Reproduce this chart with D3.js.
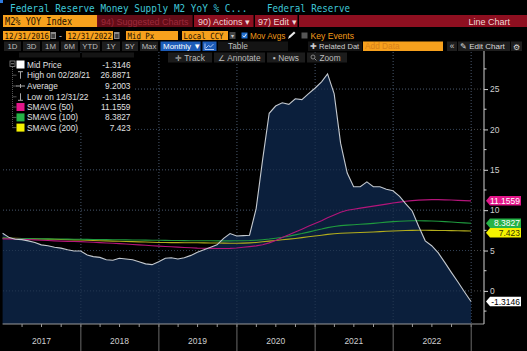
<!DOCTYPE html>
<html><head><meta charset="utf-8">
<script src="https://cdn.jsdelivr.net/npm/d3@7"></script>
<style>body{margin:0;background:#000;overflow:hidden}svg{display:block}</style>
</head><body><svg id="c" width="527" height="351"></svg>
<script>
// ---------- DATA (monthly, Dec 2016 .. Dec 2022) ----------
const m2Yoy = [7.15,6.6,6.4,6.35,6.2,6.0,5.7,5.6,5.4,5.3,5.1,4.95,
  4.95,4.45,4.25,4.15,3.85,3.8,4.05,3.95,3.85,3.6,3.35,3.25,
  3.6,4.05,4.1,3.95,4.1,4.4,4.8,5.1,5.4,5.7,6.5,7.1,
  6.8,6.85,6.9,10.2,16.2,22.0,22.9,23.3,23.1,23.8,23.7,24.4,
  25.1,25.9,26.8871,24.4,18.3,14.6,12.9,12.9,13.5,12.9,12.9,12.6,
  12.4,11.7,10.8,9.9,8.0,6.2,5.6,4.7,3.5,2.3,1.1,-0.1,-1.3146];
const sma50 = [6.45,6.44,6.42,6.40,6.36,6.32,6.28,6.24,6.20,6.17,6.14,6.12,
  6.10,6.06,6.02,5.98,5.94,5.90,5.86,5.80,5.75,5.70,5.65,5.60,
  5.55,5.50,5.46,5.42,5.38,5.34,5.30,5.28,5.27,5.26,5.26,5.27,
  5.32,5.40,5.48,5.58,5.72,5.95,6.25,6.60,6.95,7.30,7.65,8.00,
  8.35,8.70,9.05,9.40,9.75,9.98,10.12,10.25,10.38,10.50,10.62,10.75,
  10.88,11.00,11.10,11.18,11.24,11.28,11.30,11.30,11.28,11.25,11.21,11.18,11.1559];
const sma100 = [6.50,6.50,6.49,6.48,6.47,6.46,6.45,6.44,6.43,6.42,6.41,6.40,
  6.39,6.38,6.37,6.36,6.35,6.34,6.33,6.32,6.31,6.30,6.29,6.28,
  6.27,6.26,6.25,6.24,6.23,6.22,6.22,6.21,6.21,6.20,6.20,6.20,
  6.21,6.22,6.24,6.28,6.34,6.42,6.52,6.64,6.78,6.94,7.10,7.28,
  7.48,7.66,7.84,7.98,8.08,8.15,8.20,8.25,8.30,8.36,8.44,8.52,
  8.58,8.63,8.66,8.68,8.68,8.67,8.65,8.62,8.58,8.53,8.48,8.43,8.3827];
const sma200 = [6.55,6.53,6.51,6.49,6.47,6.45,6.43,6.41,6.39,6.37,6.35,6.32,
  6.30,6.27,6.25,6.22,6.20,6.17,6.15,6.12,6.10,6.07,6.05,6.02,
  6.00,5.99,5.98,5.98,5.97,5.97,5.96,5.95,5.94,5.93,5.92,5.91,
  5.90,5.92,5.95,6.00,6.08,6.16,6.25,6.33,6.41,6.50,6.60,6.70,
  6.80,6.90,7.00,7.08,7.14,7.18,7.21,7.24,7.27,7.30,7.34,7.38,
  7.42,7.45,7.48,7.50,7.51,7.51,7.50,7.49,7.48,7.47,7.45,7.44,7.423];
const yearLabels = ["2017","2018","2019","2020","2021","2022"];
const yTickValues = [0,5,10,15,20,25];
const legendNames = ["Mid Price","High on 02/28/21","Average","Low on 12/31/22","SMAVG (50)","SMAVG (100)","SMAVG (200)"];
const legendValues = ["-1.3146","26.8871","9.2003","-1.3146","11.1559","8.3827","7.423"];
const tagValues = [11.1559, 8.3827, 7.423, -1.3146];
const tagLabels = ["11.1559","8.3827","7.423","-1.3146"];

// ---------- SETUP ----------
const W=527,H=351;
const svg=d3.select('#c');
const SANS="'Liberation Sans',Arial,sans-serif";
const MONO="'DejaVu Sans Mono',monospace";
svg.append('rect').attr('width',W).attr('height',H).attr('fill','#000');

const dates = m2Yoy.map((_,i)=>d3.utcDay.offset(d3.utcMonth.offset(new Date(Date.UTC(2017,0,1)),i),-1));
const x = d3.scaleUtc().domain([dates[0],dates[dates.length-1]]).range([2.6,471]);
const y = d3.scaleLinear().domain([-4.1,28.6]).range([324,60]);
const AX=484, BOT=324, TOP=52;

// ---------- GRID ----------
const g=svg.append('g');
yTickValues.forEach(v=>{
  g.append('line').attr('x1',3).attr('x2',AX).attr('y1',y(v)).attr('y2',y(v))
   .attr('stroke','#5a5a5a').attr('stroke-width',0.8).attr('stroke-dasharray','1,2');
});
const yearBounds = d3.range(2018,2024).map(yr=>new Date(Date.UTC(yr,0,1)));
yearBounds.forEach(d=>{
  g.append('line').attr('x1',x(d)).attr('x2',x(d)).attr('y1',TOP).attr('y2',BOT)
   .attr('stroke','#5a5a5a').attr('stroke-width',0.8).attr('stroke-dasharray','1,2');
});

// ---------- AREA + LINES ----------
const pts = dates.map((d,i)=>({d,v:m2Yoy[i]}));
svg.append('path').datum(pts)
  .attr('d',d3.area().x(p=>x(p.d)).y0(BOT).y1(p=>y(p.v)))
  .attr('fill','#0b1f3c');
yTickValues.forEach(v=>{
  svg.append('line').attr('x1',3).attr('x2',471).attr('y1',y(v)).attr('y2',y(v))
   .attr('stroke','#2b3d58').attr('stroke-width',0.8).attr('stroke-dasharray','1,2');
});
yearBounds.forEach(d=>{
  svg.append('line').attr('x1',x(d)).attr('x2',x(d)).attr('y1',TOP).attr('y2',BOT)
   .attr('stroke','#2b3d58').attr('stroke-width',0.8).attr('stroke-dasharray','1,2');
});
const smaSeries=[[sma200,'#b3ad1c'],[sma100,'#1f9a3e'],[sma50,'#b4157a']];
smaSeries.forEach(([arr,col])=>{
  svg.append('path').datum(arr.map((v,i)=>({d:dates[i],v})))
   .attr('d',d3.line().x(p=>x(p.d)).y(p=>y(p.v)))
   .attr('fill','none').attr('stroke',col).attr('stroke-width',1.1);
});
svg.append('path').datum(pts)
  .attr('d',d3.line().x(p=>x(p.d)).y(p=>y(p.v)))
  .attr('fill','none').attr('stroke','#c4c9cf').attr('stroke-width',1.1);

// ---------- X AXIS ----------
svg.append('line').attr('x1',2.6).attr('x2',AX).attr('y1',BOT).attr('y2',BOT).attr('stroke','#9a9a9a').attr('stroke-width',1);
const quarters = d3.utcMonth.every(3).range(new Date(Date.UTC(2017,3,1)),new Date(Date.UTC(2023,0,2)));
quarters.forEach(d=>{
  svg.append('line').attr('x1',x(d)).attr('x2',x(d)).attr('y1',BOT).attr('y2',BOT+3).attr('stroke','#9a9a9a');
});
yearBounds.forEach(d=>{
  svg.append('line').attr('x1',x(d)).attr('x2',x(d)).attr('y1',BOT).attr('y2',H).attr('stroke','#6a6a6a');
});
yearLabels.forEach((t,i)=>{
  const mid=new Date(Date.UTC(2017+i,6,1));
  svg.append('text').attr('x',x(mid)).attr('y',344).attr('text-anchor','middle')
   .attr('font-family',SANS).attr('font-size',8.5).attr('fill','#cfcfcf').text(t);
});

// ---------- Y AXIS ----------
svg.append('line').attr('x1',AX).attr('x2',AX).attr('y1',50).attr('y2',BOT).attr('stroke','#d0d0d0').attr('stroke-width',1);
const yAxis=d3.axisRight(y).tickValues(yTickValues).tickSize(4).tickPadding(2).tickFormat(d3.format('d'));
const ya=svg.append('g').attr('transform',`translate(${AX},0)`).call(yAxis);
ya.select('.domain').remove();
ya.selectAll('line').attr('stroke','#d0d0d0');
ya.selectAll('text').attr('font-family',SANS).attr('font-size',8.5).attr('fill','#cfcfcf');
d3.range(-2.5,28.6,5).forEach(v=>{
  svg.append('line').attr('x1',AX).attr('x2',AX+2.5).attr('y1',y(v)).attr('y2',y(v)).attr('stroke','#d0d0d0');
});

// ---------- VALUE TAGS ----------
const tagFill=['#e3168a','#25b347','#f5f200','#ffffff'];
const tagText=['#ffffff','#ffffff','#333300','#000000'];
let prevY=-100;
tagValues.forEach((v,i)=>{
  let yc=y(v); if(yc<prevY+9.5) yc=prevY+9.5; prevY=yc;
  const x0=486,x1=521,h=9.5;
  svg.append('path').attr('d',`M${x0},${yc}L${x0+4},${yc-h/2}L${x1},${yc-h/2}L${x1},${yc+h/2}L${x0+4},${yc+h/2}Z`)
    .attr('fill',tagFill[i]);
  svg.append('text').attr('x',x1-1).attr('y',yc+3).attr('text-anchor','end')
    .attr('font-family',SANS).attr('font-size',8.5).attr('fill',tagText[i]).text(tagLabels[i]);
});

// ---------- LEGEND ----------
svg.append('rect').attr('x',3).attr('y',52.5).attr('width',132).attr('height',80).attr('fill','#000');
svg.append('rect').attr('x',19).attr('y',52.5).attr('width',61).attr('height',5).attr('fill','#151515');
svg.append('rect').attr('x',82).attr('y',52.5).attr('width',52).attr('height',5).attr('fill','#151515');
const rowY=[64.5,75.2,86,96.8,107,117.4,127.6];
svg.append('rect').attr('x',10).attr('y',61).attr('width',5).attr('height',5.5).attr('fill','none').attr('stroke','#8a8a8a').attr('stroke-width',0.8);
svg.append('line').attr('x1',11).attr('x2',14).attr('y1',63.75).attr('y2',63.75).attr('stroke','#aaa').attr('stroke-width',0.8);
svg.append('line').attr('x1',12.5).attr('x2',12.5).attr('y1',67).attr('y2',rowY[6]).attr('stroke','#6a6a6a').attr('stroke-width',0.8).attr('stroke-dasharray','1,1');
rowY.slice(1).forEach(yy=>svg.append('line').attr('x1',12.5).attr('x2',16.5).attr('y1',yy).attr('y2',yy).attr('stroke','#6a6a6a').attr('stroke-width',0.8));
svg.append('rect').attr('x',16.5).attr('y',rowY[0]-4).attr('width',8).attr('height',8).attr('fill','#ffffff');
const sg='#a8a8a8';
svg.append('line').attr('x1',18).attr('x2',23).attr('y1',rowY[1]-3.5).attr('y2',rowY[1]-3.5).attr('stroke',sg);
svg.append('line').attr('x1',20.5).attr('x2',20.5).attr('y1',rowY[1]-3.5).attr('y2',rowY[1]+3.5).attr('stroke',sg);
svg.append('line').attr('x1',16).attr('x2',25).attr('y1',rowY[2]).attr('y2',rowY[2]).attr('stroke',sg);
svg.append('line').attr('x1',20.5).attr('x2',20.5).attr('y1',rowY[2]-2).attr('y2',rowY[2]+2).attr('stroke',sg);
svg.append('line').attr('x1',18).attr('x2',23).attr('y1',rowY[3]+3.5).attr('y2',rowY[3]+3.5).attr('stroke',sg);
svg.append('line').attr('x1',20.5).attr('x2',20.5).attr('y1',rowY[3]-3.5).attr('y2',rowY[3]+3.5).attr('stroke',sg);
['#e3168a','#25b347','#f5f200'].forEach((c,i)=>{
  svg.append('rect').attr('x',16.5).attr('y',rowY[4+i]-4).attr('width',8).attr('height',8).attr('fill',c);
});
legendNames.forEach((n,i)=>{
  svg.append('text').attr('x',27).attr('y',rowY[i]+3).attr('font-family',SANS).attr('font-size',8.3).attr('fill','#e0e0e0').text(n);
  svg.append('text').attr('x',130.5).attr('y',rowY[i]+3).attr('text-anchor','end').attr('font-family',SANS).attr('font-size',8.3).attr('fill','#e0e0e0').text(legendValues[i]);
});

// ---------- TRACK TOOLBAR ----------
const tb=[[168,212,'✛ Track'],[214,265,'∠ Annotate'],[267,305,'▪ News'],[307,347,'  Zoom']];
tb.forEach(([a,b,t])=>{
  svg.append('rect').attr('x',a).attr('y',52.5).attr('width',b-a).attr('height',10).attr('fill','#1c1c1c');
  svg.append('text').attr('x',(a+b)/2+(t==='  Zoom'?3:0)).attr('y',60.5).attr('text-anchor','middle').attr('font-family',SANS).attr('font-size',8.3).attr('fill','#bdbdbd').text(t.trim());
});
svg.append('circle').attr('cx',313).attr('cy',57).attr('r',2).attr('fill','none').attr('stroke','#999').attr('stroke-width',0.8);
svg.append('line').attr('x1',314.5).attr('x2',316.5).attr('y1',58.5).attr('y2',60.5).attr('stroke','#999').attr('stroke-width',0.9);

// ---------- HEADER ----------
svg.append('rect').attr('x',0).attr('y',0).attr('width',3).attr('height',3).attr('fill','#2f7be0');
svg.append('text').attr('transform','translate(10,12) scale(1,1.18)').attr('font-family',MONO).attr('font-size',9.4).attr('fill','#3fc6d6')
  .text('Federal Reserve Money Supply M2 YoY % C...');
svg.append('text').attr('transform','translate(267,12) scale(1,1.18)').attr('font-family',MONO).attr('font-size',9.2).attr('fill','#3fc6d6')
  .text('Federal Reserve');

// row 2
const RED='#8e0f20';
svg.append('rect').attr('x',3).attr('y',15).attr('width',524).attr('height',12).attr('fill',RED);
svg.append('rect').attr('x',3).attr('y',15).attr('width',94).attr('height',12).attr('fill','#f7a11d');
svg.append('text').attr('transform','translate(5,24.5) scale(1,1.15)').attr('font-family',MONO).attr('font-size',8.6).attr('fill','#1a1000')
  .text('M2% YOY Index');
svg.append('rect').attr('x',97.5).attr('y',15).attr('width',95).attr('height',12).attr('fill','#640c17');
svg.append('text').attr('x',101).attr('y',24.5).attr('font-family',SANS).attr('font-size',9).attr('fill','#9c2a3b').text('94) Suggested Charts');
[[192.5,1.5],[253.5,1.5],[297.5,1.5]].forEach(([a,w])=>svg.append('rect').attr('x',a).attr('y',15).attr('width',w).attr('height',12).attr('fill','#000'));
svg.append('text').attr('x',198).attr('y',24.5).attr('font-family',SANS).attr('font-size',9).attr('fill','#f0d6d6').text('90) Actions ▾');
svg.append('text').attr('x',258).attr('y',24.5).attr('font-family',SANS).attr('font-size',9).attr('fill','#f0d6d6').text('97) Edit ▾');
svg.append('text').attr('x',510).attr('y',24.5).attr('text-anchor','end').attr('font-family',SANS).attr('font-size',9).attr('fill','#f0d6d6').text('Line Chart');

// row 3
const OR='#f7a11d';
const ob=(x0,w,t)=>{svg.append('rect').attr('x',x0).attr('y',31).attr('width',w).attr('height',9).attr('fill',OR);
  svg.append('text').attr('transform',`translate(${x0+1.5},38.6) scale(1,1.15)`).attr('font-family',MONO).attr('font-size',7.4).attr('fill','#1a1000').text(t);};
ob(3,47,'12/31/2016');
ob(66,47,'12/31/2022');
ob(126,52,'Mid Px');
ob(182,46,'Local CCY');
const ic=(x0)=>{svg.append('rect').attr('x',x0).attr('y',32).attr('width',5.5).attr('height',7).attr('fill','#8a8a8a');
  svg.append('rect').attr('x',x0+1).attr('y',34).attr('width',3.5).attr('height',4).attr('fill','#444');};
ic(50.5); ic(114);
svg.append('text').attr('x',59).attr('y',38.5).attr('font-family',SANS).attr('font-size',9).attr('fill','#ccc').text('-');
svg.append('rect').attr('x',229.5).attr('y',32).attr('width',6).attr('height',7).attr('fill','#444');
svg.append('text').attr('x',232.5).attr('y',38).attr('text-anchor','middle').attr('font-family',SANS).attr('font-size',6).attr('fill','#ccc').text('▾');
svg.append('rect').attr('x',241.5).attr('y',32.5).attr('width',6).attr('height',6).attr('fill','#1f6fd0');
svg.append('path').attr('d','M242.8,35.6L244.3,37.1L246.5,33.8').attr('fill','none').attr('stroke','#fff').attr('stroke-width',0.9);
svg.append('text').attr('x',250).attr('y',38.8).attr('font-family',SANS).attr('font-size',8.2).attr('fill','#f09a1a').text('Mov Avgs');
svg.append('path').attr('d','M288,39L289,36L294,31.5L295.5,33L290.5,37.5Z').attr('fill','#e8e8e8');
svg.append('rect').attr('x',301.5).attr('y',32.5).attr('width',6).attr('height',6).attr('fill','#555');
svg.append('text').attr('x',310.5).attr('y',38.8).attr('font-family',SANS).attr('font-size',8.6).attr('fill','#f09a1a').text('Key Events');

// row 4
const btns=[[4,21,'1D'],[23,40,'3D'],[42,59,'1M'],[61,78,'6M'],[80,100,'YTD'],[102,120,'1Y'],[122,138,'5Y'],[140,158,'Max']];
btns.forEach(([a,b,t])=>{
  svg.append('rect').attr('x',a).attr('y',41.5).attr('width',b-a).attr('height',9.5).attr('fill','#1e1e1e');
  svg.append('text').attr('x',(a+b)/2).attr('y',49).attr('text-anchor','middle').attr('font-family',SANS).attr('font-size',7.8).attr('fill','#bdbdbd').text(t);
});
svg.append('rect').attr('x',160.5).attr('y',41.5).attr('width',40).attr('height',9.5).attr('fill','#1d5cb8');
svg.append('text').attr('x',163).attr('y',49.3).attr('font-family',SANS).attr('font-size',8).attr('fill','#ffffff').text('Monthly ▼');
svg.append('rect').attr('x',202.5).attr('y',41.5).attr('width',14).attr('height',9.5).attr('fill','#1d5cb8');
svg.append('path').attr('d','M205,49.5L214,49.5M205,43.5L205,49.5M206,48L208.5,45.5L210.5,47L213.5,44').attr('fill','none').attr('stroke','#cfe0ff').attr('stroke-width',0.8);
svg.append('rect').attr('x',218).attr('y',41.5).attr('width',70).attr('height',9.5).attr('fill','#141414');
svg.append('text').attr('x',238).attr('y',49.3).attr('text-anchor','middle').attr('font-family',SANS).attr('font-size',8.3).attr('fill','#bdbdbd').text('Table');
svg.append('rect').attr('x',308).attr('y',41.5).attr('width',54).attr('height',9.5).attr('fill','#141414');
svg.append('text').attr('x',310).attr('y',49.3).attr('font-family',SANS).attr('font-size',7.6).attr('fill','#cfcfcf').text('✚ Related Dat');
svg.append('rect').attr('x',363).attr('y',41.5).attr('width',80).attr('height',9.5).attr('fill','#f7a11d');
svg.append('text').attr('x',365).attr('y',49.3).attr('font-family',SANS).attr('font-size',8.3).attr('fill','#d6801a').text('Add Data');
svg.append('rect').attr('x',447).attr('y',41.5).attr('width',10).attr('height',9.5).attr('fill','#1e1e1e');
svg.append('text').attr('x',452).attr('y',49.3).attr('text-anchor','middle').attr('font-family',SANS).attr('font-size',8.3).attr('fill','#cfcfcf').text('«');
svg.append('rect').attr('x',458).attr('y',41.5).attr('width',52).attr('height',9.5).attr('fill','#1e1e1e');
svg.append('text').attr('x',460).attr('y',49.3).attr('font-family',SANS).attr('font-size',8).attr('fill','#dcdcdc').text('✎ Edit Chart');
svg.append('rect').attr('x',511).attr('y',41.5).attr('width',11).attr('height',9.5).attr('fill','#1e1e1e');
svg.append('text').attr('x',516.5).attr('y',49.5).attr('text-anchor','middle').attr('font-family','DejaVu Sans').attr('font-size',8).attr('fill','#dcdcdc').text('⚙');
</script></body></html>
